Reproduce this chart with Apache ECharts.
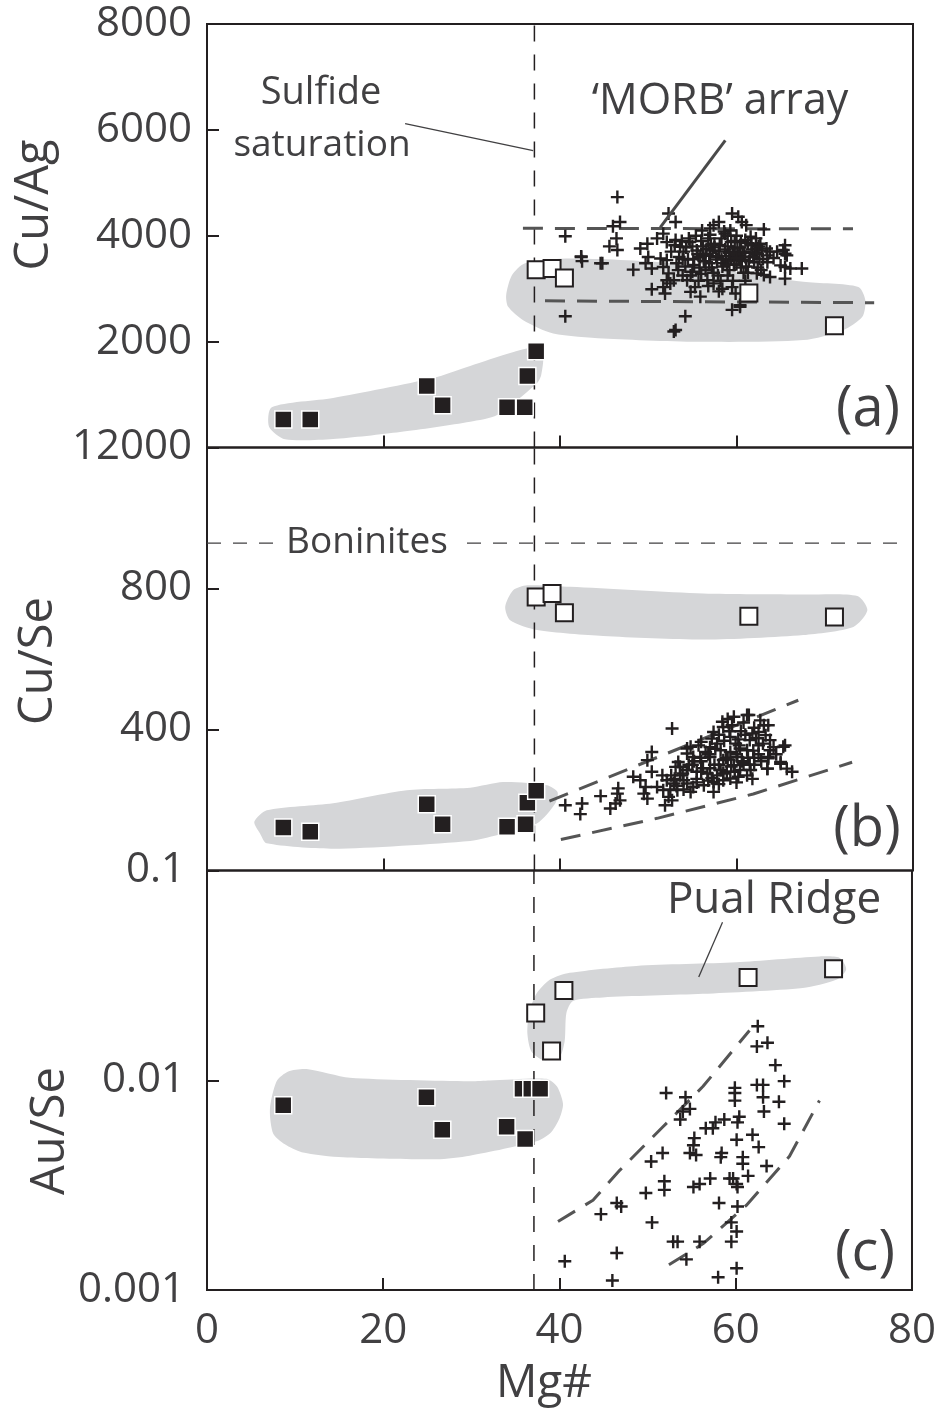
<!DOCTYPE html>
<html>
<head>
<meta charset="utf-8">
<script src="https://cdn.jsdelivr.net/npm/echarts@6.0.0/dist/echarts.min.js"></script>
<style>
  html, body { margin: 0; padding: 0; background: #ffffff; }
  #chart { width: 939px; height: 1412px; }
</style>
</head>
<body>
<div id="chart"></div>
<script>
// ---------- Mg# axis ----------
const MG_TICKS = [0, 20, 40, 60, 80];
const SULFIDE_SATURATION_MG = 37.1;

// ---------- (a) Cu/Ag ----------
const CU_AG_TICKS = [0, 2000, 4000, 6000, 8000];
const CU_AG_TICK_LABELS = ['', '2000', '4000', '6000', '8000'];
const CU_AG_ARC = [[8.65, 530], [11.7, 530], [24.9, 1160], [26.7, 800], [34.0, 760], [36.0, 760], [36.3, 1350], [37.3, 1820]];
const CU_AG_PUAL = [[37.3, 3360], [39.1, 3380], [40.5, 3200], [61.4, 2920], [71.1, 2300]];
const CU_AG_MORB = [
  [46.5, 4730], [46.8, 4260], [46.0, 4180], [40.6, 3990], [46.4, 3950], [45.6, 3800], [46.5, 3730], [42.4, 3610],
  [42.5, 3520], [44.6, 3480], [48.3, 3360], [40.6, 2480], [52.9, 2190], [54.2, 2480], [53.1, 2220], [52.3, 4420],
  [53.1, 4260], [51.7, 4040], [51.0, 3950], [52.1, 3880], [53.1, 3920], [49.9, 3850], [49.1, 3760], [50.0, 3600],
  [49.7, 3480], [50.4, 3380], [51.4, 3570], [52.1, 3540], [51.7, 3410], [52.3, 3290], [52.1, 3160], [51.7, 3030],
  [50.4, 2990], [51.9, 2910], [52.9, 3160], [52.5, 3100], [59.5, 4420], [60.2, 4360], [60.6, 4260], [61.1, 4200],
  [58.0, 4260], [57.4, 4200], [57.0, 4140], [63.1, 4120], [56.1, 4100], [59.3, 4100], [58.7, 4040], [53.6, 3790],
  [65.5, 3820], [65.3, 3730], [64.6, 3700], [65.7, 3630], [63.8, 3700], [62.7, 3850], [62.3, 3760], [63.5, 3630],
  [67.4, 3380], [66.1, 3380], [65.5, 3190], [65.0, 3440], [63.8, 3220], [63.1, 3260], [62.3, 3290], [59.5, 2600],
  [60.4, 2690], [59.9, 2910], [59.5, 3030], [54.8, 2940], [55.9, 2850], [55.3, 3030], [54.4, 3160], [58.4, 3000],
  [57.4, 3100], [56.7, 3160], [60.4, 2660], [65.5, 3410], [65.5, 3660], [44.8, 3480], [42.4, 3600],
  [53.5, 3600], [54.0, 3700], [54.5, 3550], [55.0, 3800], [55.2, 3450], [55.6, 3650], [56.0, 3900], [56.3, 3520],
  [56.6, 3750], [57.0, 3620], [57.2, 3400], [57.5, 3850], [57.8, 3550], [58.0, 3700], [58.3, 3950], [58.5, 3480],
  [58.8, 3620], [59.0, 3800], [59.2, 3350], [59.4, 3560], [59.6, 3700], [59.8, 3900], [60.0, 3460], [60.2, 3620],
  [60.4, 3780], [60.6, 3540], [60.9, 3680], [61.1, 3420], [61.3, 3860], [61.5, 3600], [61.8, 3740], [62.0, 3500],
  [62.3, 3650], [62.6, 3560], [62.9, 3720], [57.4, 3300], [56.0, 3280], [55.0, 3320], [54.2, 3420], [53.8, 3900],
  [55.4, 4000], [57.0, 4020], [58.6, 4080], [60.0, 4000], [61.6, 3980], [59.0, 3250], [60.8, 3300], [58.2, 3150],
  [56.8, 3050], [62.4, 3400], [63.5, 3500], [64.2, 3580], [53.2, 3480], [54.8, 3250], [61.0, 3150], [58.0, 2950],
  [57.5, 3780], [59.8, 3640], [60.5, 3880], [56.2, 3620],
  [52.6, 3700], [53.0, 3820], [53.4, 3350], [53.9, 3560], [54.3, 3780], [54.7, 3880], [55.1, 3560], [55.5, 3720],
  [55.8, 3400], [56.2, 3800], [56.5, 3660], [56.9, 3480], [57.3, 3720], [57.7, 3600], [58.1, 3820], [58.4, 3420],
  [58.7, 3740], [59.1, 3520], [59.4, 3880], [59.7, 3450], [60.1, 3760], [60.3, 3560], [60.7, 3700], [61.0, 3600],
  [61.4, 3520], [61.7, 3820], [62.1, 3680], [62.5, 3800], [63.0, 3560], [63.4, 3760], [53.9, 3250], [55.7, 3150],
  [57.9, 3250], [59.6, 3150], [61.3, 3300], [56.5, 3350], [60.5, 3400], [62.8, 3350], [54.6, 3950], [56.8, 3950],
  [59.0, 4000], [61.0, 3920], [62.2, 3950], [58.3, 3560], [57.1, 3820], [55.9, 3600], [60.0, 3580], [59.2, 3680],
  [58.9, 3450], [61.9, 3600]
];
const CU_AG_MORB_UPPER = [[35.8, 4140], [73.2, 4130]];
const CU_AG_MORB_LOWER = [[38.3, 2770], [75.6, 2735]];
const CU_AG_ARC_FIELD = [
  [7.34, 759], [14.29, 934], [25.62, 1311], [29.82, 1538], [34.35, 1783], [37.41, 1896], [38.1, 1745], [37.87, 1368],
  [37.41, 1217], [32.88, 613], [29.82, 487], [21.88, 292], [14.29, 160], [8.84, 155], [7.03, 392]
];
const CU_AG_PUAL_FIELD = [
  [33.9, 2878], [34.55, 3255], [36.05, 3482], [41.16, 3570], [52.5, 3482], [67.57, 3129], [73.81, 3034], [74.6, 2783],
  [74.26, 2468], [72.11, 2217], [67.57, 2029], [56.24, 1996], [44.9, 2061], [39.23, 2155], [35.83, 2406], [34.13, 2657]
];
const SULFIDE_LEADER = [[22.45, 6120], [36.96, 5610]];
const MORB_LEADER = [[58.73, 5800], [51.36, 4160]];

// ---------- (b) Cu/Se ----------
const CU_SE_TICKS = [0, 400, 800, 1200];
const CU_SE_TICK_LABELS = ['', '400', '800', '12000'];
const BONINITE_CU_SE = 929;
const CU_SE_ARC = [[8.65, 122], [11.7, 110], [24.9, 188], [26.7, 131], [34.0, 124], [36.1, 131], [36.3, 192], [37.3, 226]];
const CU_SE_PUAL = [[37.3, 776], [39.1, 786], [40.5, 731], [61.4, 721], [71.1, 719]];
const CU_SE_MORB = [
  [52.7, 403], [40.6, 185], [42.5, 190], [42.3, 160], [44.6, 211], [46.6, 233], [46.5, 218], [46.8, 199], [46.3, 190],
  [45.7, 176], [48.3, 266], [49.1, 256], [50.4, 336], [49.9, 313], [50.4, 280], [49.7, 237], [49.9, 204], [49.5, 218],
  [52.1, 256], [51.7, 228], [52.3, 209], [51.9, 185], [52.9, 247], [53.3, 228], [52.7, 199], [53.6, 270], [54.0, 256],
  [54.4, 285], [53.4, 308], [53.1, 294], [54.4, 346], [51.0, 237], [51.6, 270], [61.4, 441], [59.7, 436], [58.4, 422],
  [58.5, 407], [59.5, 412], [62.7, 426], [63.1, 412], [63.6, 412], [62.5, 393], [63.3, 384], [61.8, 389], [57.4, 393],
  [57.2, 374], [57.8, 360], [59.3, 379], [59.9, 360], [65.5, 355], [63.8, 341], [63.6, 322], [65.0, 308], [65.7, 289],
  [66.3, 280], [63.5, 289], [61.6, 285], [54.8, 351], [55.7, 355], [54.4, 332], [55.1, 322], [56.5, 336], [57.0, 322],
  [58.2, 341], [59.3, 336], [60.4, 346], [61.2, 341], [60.1, 322], [58.5, 313], [59.7, 299], [60.4, 285], [61.2, 270],
  [53.6, 294], [54.4, 285], [55.5, 280], [56.7, 275], [57.8, 270], [58.9, 280], [58.5, 256], [57.4, 251], [56.3, 242],
  [55.1, 237], [54.4, 247], [54.8, 223], [57.4, 223], [59.3, 261], [60.2, 266], [61.2, 441], [65.3, 351], [63.6, 318],
  [65.0, 303], [63.5, 289], [55.0, 300], [56.0, 310], [57.0, 290], [58.0, 300], [59.0, 315], [60.8, 305], [62.0, 300],
  [62.5, 355], [61.5, 370], [60.5, 395], [58.0, 385], [56.0, 365], [55.5, 250], [53.0, 260], [52.5, 230], [54.0, 230],
  [60.0, 250], [61.8, 260], [64.5, 330], [62.0, 320],
  [55.5, 260], [56.2, 290], [56.8, 255], [57.5, 300], [58.2, 285], [58.8, 320], [59.4, 295], [60.0, 330], [60.6, 310],
  [61.3, 320], [61.9, 340], [62.5, 330], [63.0, 360], [62.2, 375], [61.0, 385], [60.2, 372], [59.2, 395], [58.6, 368],
  [57.6, 345], [56.8, 330], [55.9, 320], [55.2, 310], [54.6, 300], [53.9, 275], [57.2, 262], [58.5, 275], [59.8, 280],
  [61.5, 300], [62.8, 310], [63.8, 370], [64.2, 350], [60.8, 420], [59.0, 430], [62.0, 405], [57.0, 350], [56.0, 280],
  [53.2, 240], [52.6, 270], [58.0, 245], [60.3, 355]
];
const CU_SE_MORB_UPPER = [[38.8, 197], [67.0, 483]];
const CU_SE_MORB_LOWER = [[40.1, 88], [51.0, 148], [61.9, 217], [73.1, 307]];
const CU_SE_ARC_FIELD = [
  [5.36, 138], [6.77, 171], [14.29, 191], [22.64, 228], [29.82, 235], [33.56, 251], [38.51, 242], [39.72, 223],
  [39.46, 190], [37.38, 133], [33.56, 105], [29.82, 84], [14.29, 62], [6.77, 77], [6.01, 105]
];
const CU_SE_PUAL_FIELD = [
  [33.79, 748], [34.69, 795], [36.28, 809], [41.16, 805], [56.24, 786], [67.57, 783], [73.7, 779], [74.83, 738],
  [73.24, 691], [67.57, 668], [56.46, 655], [44.9, 665], [37.41, 682], [34.35, 710]
];

// ---------- (c) Au/Se ----------
const AU_SE_TICKS = [0.001, 0.01, 0.1];
const AU_SE_TICK_LABELS = ['0.001', '0.01', '0.1'];
const AU_SE_ARC = [[8.65, 0.0076], [24.9, 0.0083], [26.7, 0.0058], [34.0, 0.0060], [36.1, 0.00525], [35.8, 0.0091], [36.8, 0.0091], [37.8, 0.0091]];
const AU_SE_PUAL = [[37.3, 0.0209], [39.1, 0.0138], [40.5, 0.0268], [61.4, 0.0309], [71.1, 0.034]];
const AU_SE_MORB = [
  [62.5, 0.0181], [62.4, 0.0145], [63.6, 0.0151], [64.5, 0.0118], [65.5, 0.0099], [62.4, 0.0095], [63.1, 0.0095],
  [63.1, 0.0083], [64.9, 0.0079], [63.2, 0.0071], [65.5, 0.0062], [59.9, 0.0092], [59.9, 0.0087], [59.9, 0.0080],
  [60.4, 0.0067], [60.2, 0.0063], [60.1, 0.0052], [61.9, 0.0055], [62.6, 0.0048], [60.8, 0.0043], [60.8, 0.0040],
  [63.5, 0.0039], [58.7, 0.0065], [57.7, 0.0063], [57.4, 0.0059], [56.6, 0.0059], [55.3, 0.0053], [55.2, 0.0049],
  [55.5, 0.0044], [54.8, 0.0045], [58.4, 0.0045], [58.3, 0.0043], [57.1, 0.0034], [59.3, 0.0034], [59.7, 0.0034],
  [61.4, 0.0035], [60.1, 0.0032], [60.2, 0.0031], [55.9, 0.0032], [55.2, 0.0031], [58.1, 0.0026], [60.2, 0.0025],
  [52.1, 0.0087], [54.3, 0.0083], [54.8, 0.0073], [54.0, 0.0071], [53.7, 0.0065], [51.7, 0.0045], [50.4, 0.0041],
  [51.9, 0.0033], [51.9, 0.0030], [49.8, 0.0029], [50.5, 0.0021], [46.5, 0.0026], [47.0, 0.0025], [44.7, 0.0023],
  [52.9, 0.0017], [53.4, 0.0017], [55.9, 0.0017], [54.4, 0.0014], [59.5, 0.0021], [60.1, 0.0019], [59.5, 0.0017],
  [46.5, 0.0015], [40.6, 0.00137], [46.0, 0.00111], [58.0, 0.00115], [60.1, 0.00127]
];
const AU_SE_MORB_UPPER = [[39.83, 0.00212], [43.8, 0.00268], [46.83, 0.00372], [51.74, 0.0060], [56.27, 0.00933], [61.56, 0.01726]];
const AU_SE_MORB_LOWER = [[52.42, 0.00132], [56.27, 0.00166], [61.19, 0.00253], [66.1, 0.00434], [69.5, 0.0080]];
const AU_SE_ARC_FIELD = [
  [7.9, 0.00989], [9.22, 0.01101], [11.3, 0.01131], [16.21, 0.01028], [29.82, 0.00989], [32.09, 0.00997], [38.51, 0.01016],
  [39.72, 0.00933], [40.4, 0.00771], [40.02, 0.00661], [39.08, 0.00567], [37.56, 0.00515], [29.82, 0.00437],
  [26.04, 0.0042], [15.45, 0.00429], [10.74, 0.00454], [8.84, 0.00495], [7.52, 0.00556], [7.14, 0.00728]
];
const AU_SE_PUAL_FIELD = [
  [38.21, 0.01245], [40.02, 0.01294], [40.59, 0.01538], [40.78, 0.02089], [41.53, 0.0239], [44.93, 0.02483],
  [56.27, 0.02582], [67.61, 0.02754], [71.39, 0.0301], [72.53, 0.03377], [71.77, 0.03833], [69.5, 0.0389],
  [60.06, 0.03648], [48.72, 0.03508], [41.16, 0.03251], [38.89, 0.0301], [37.38, 0.02582], [36.54, 0.02089],
  [36.36, 0.0166], [36.81, 0.01371]
];
const PUAL_LEADER = [[58.5, 0.0567], [55.8, 0.0311]];

// ---------- styling ----------
const INK = '#231f20';
const TEXT = '#414042';
const FIELD = '#d5d6d8';
const ENVELOPE = '#555555';
const FONT = '"Open Sans", "Noto Sans", sans-serif';
const CROSS = 'path://M5.3,0h2.4v5.3h5.3v2.4h-5.3v5.3h-2.4v-5.3h-5.3v-2.4h5.3z';

const PANELS = [
  { top: 24, height: 423.5 },
  { top: 447.5, height: 423 },
  { top: 870.5, height: 419.5 }
];

function labelFrom(ticks, labels) {
  return function (v) {
    for (let i = 0; i < ticks.length; i++) {
      if (Math.abs(v - ticks[i]) <= Math.abs(ticks[i]) * 1e-6 + 1e-12) return labels[i];
    }
    return '';
  };
}

function field(g, pts) {
  return {
    type: 'custom', xAxisIndex: g, yAxisIndex: g, silent: true, z: 1,
    data: pts,
    encode: { x: 0, y: 1 },
    renderItem: function (params, api) {
      if (params.dataIndex !== 0) return null;
      return {
        type: 'polygon',
        shape: { points: pts.map(function (p) { return api.coord(p); }), smooth: 0.25 },
        style: { fill: FIELD, stroke: null }
      };
    }
  };
}

function path(g, pts, width, dash, color, z) {
  return {
    type: 'line', xAxisIndex: g, yAxisIndex: g, data: pts, symbol: 'none', silent: true, z: z || 3,
    lineStyle: { color: color, width: width, type: dash }
  };
}

function crosses(g, pts) {
  return {
    type: 'scatter', xAxisIndex: g, yAxisIndex: g, data: pts, symbol: CROSS, symbolSize: 13, z: 4,
    itemStyle: { color: INK, opacity: 1 }
  };
}

function filledSquares(g, pts) {
  return {
    type: 'scatter', xAxisIndex: g, yAxisIndex: g, data: pts, symbol: 'rect', symbolSize: 17, z: 5,
    itemStyle: { color: INK, borderColor: '#ffffff', borderWidth: 1.5, opacity: 1 }
  };
}

function openSquares(g, pts) {
  return {
    type: 'scatter', xAxisIndex: g, yAxisIndex: g, data: pts, symbol: 'rect', symbolSize: 17, z: 5,
    itemStyle: { color: '#ffffff', borderColor: INK, borderWidth: 2, opacity: 1 }
  };
}

const tickStyle = { show: true, inside: true, length: 12, lineStyle: { color: INK, width: 2 } };
const labelStyle = { color: TEXT, fontFamily: FONT, fontSize: 42 };

const xAxes = PANELS.map(function (p, i) {
  return {
    gridIndex: i, type: 'value', min: MG_TICKS[0], max: MG_TICKS[MG_TICKS.length - 1], interval: 20,
    axisLine: { show: false }, splitLine: { show: false }, axisTick: tickStyle,
    axisLabel: Object.assign({ show: i === 2, margin: 20, formatter: labelFrom(MG_TICKS, MG_TICKS.map(String)) }, labelStyle)
  };
});

const yAxes = [
  {
    gridIndex: 0, type: 'value', min: 0, max: 8000, interval: 2000,
    axisLine: { show: false }, splitLine: { show: false }, axisTick: tickStyle,
    axisLabel: Object.assign({ margin: 15, formatter: labelFrom(CU_AG_TICKS, CU_AG_TICK_LABELS) }, labelStyle)
  },
  {
    gridIndex: 1, type: 'value', min: 0, max: 1200, interval: 400,
    axisLine: { show: false }, splitLine: { show: false }, axisTick: tickStyle,
    axisLabel: Object.assign({ margin: 15, formatter: labelFrom(CU_SE_TICKS, CU_SE_TICK_LABELS) }, labelStyle)
  },
  {
    gridIndex: 2, type: 'log', logBase: 10, min: 0.001, max: 0.1,
    axisLine: { show: false }, splitLine: { show: false }, minorTick: { show: false }, axisTick: tickStyle,
    axisLabel: Object.assign({ margin: 22, formatter: labelFrom(AU_SE_TICKS, AU_SE_TICK_LABELS) }, labelStyle)
  }
];

const vDash = [16, 13];
const series = [
  // (a)
  field(0, CU_AG_ARC_FIELD),
  field(0, CU_AG_PUAL_FIELD),
  path(0, [[SULFIDE_SATURATION_MG, 0], [SULFIDE_SATURATION_MG, 8000]], 1.5, vDash, INK, 2),
  path(0, CU_AG_MORB_UPPER, 3, [20, 12], ENVELOPE),
  path(0, CU_AG_MORB_LOWER, 3, [20, 12], ENVELOPE),
  path(0, SULFIDE_LEADER, 1.3, 'solid', TEXT),
  crosses(0, CU_AG_MORB),
  path(0, MORB_LEADER, 3, 'solid', '#4a4a4a', 6),
  openSquares(0, CU_AG_PUAL),
  filledSquares(0, CU_AG_ARC),
  // (b)
  field(1, CU_SE_ARC_FIELD),
  field(1, CU_SE_PUAL_FIELD),
  path(1, [[SULFIDE_SATURATION_MG, 0], [SULFIDE_SATURATION_MG, 1200]], 1.5, vDash, INK, 2),
  path(1, [[0, BONINITE_CU_SE], [79.3, BONINITE_CU_SE]], 1.3, [14, 12], TEXT, 2),
  path(1, CU_SE_MORB_UPPER, 3, [20, 12], ENVELOPE),
  path(1, CU_SE_MORB_LOWER, 3, [20, 12], ENVELOPE),
  crosses(1, CU_SE_MORB),
  openSquares(1, CU_SE_PUAL),
  filledSquares(1, CU_SE_ARC),
  // (c)
  field(2, AU_SE_ARC_FIELD),
  field(2, AU_SE_PUAL_FIELD),
  path(2, [[SULFIDE_SATURATION_MG, 0.001], [SULFIDE_SATURATION_MG, 0.1]], 1.5, vDash, INK, 2),
  path(2, AU_SE_MORB_UPPER, 3, [20, 12], ENVELOPE),
  path(2, AU_SE_MORB_LOWER, 3, [20, 12], ENVELOPE),
  path(2, PUAL_LEADER, 1.3, 'solid', TEXT),
  crosses(2, AU_SE_MORB),
  openSquares(2, AU_SE_PUAL),
  filledSquares(2, AU_SE_ARC)
];

function txt(text, x, y, size, extra) {
  return Object.assign({
    type: 'text', x: x, y: y, z: 100,
    style: { text: text, fill: TEXT, fontFamily: FONT, fontSize: size, align: 'center', verticalAlign: 'middle' }
  }, extra || {});
}

const graphics = [
  txt('Sulfide', 321, 93, 38),
  txt('saturation', 322, 145, 37),
  txt('\u2018MORB\u2019 array', 720, 102, 43),
  txt('(a)', 868, 410, 56),
  txt('(b)', 867, 830, 56),
  txt('(c)', 865, 1254, 56),
  txt('Pual Ridge', 774, 900, 44),
  {
    type: 'text', x: 367, y: 542, z: 100,
    style: {
      text: 'Boninites', fill: TEXT, fontFamily: FONT, fontSize: 37, align: 'center', verticalAlign: 'middle',
      backgroundColor: '#ffffff', padding: [2, 10]
    }
  },
  txt('Cu/Ag', 35, 205, 47, { rotation: Math.PI / 2 }),
  txt('Cu/Se', 39, 661, 47, { rotation: Math.PI / 2 }),
  txt('Au/Se', 51, 1131, 47, { rotation: Math.PI / 2 }),
  txt('Mg#', 544, 1384, 46)
];

const chart = echarts.init(document.getElementById('chart'), null, { renderer: 'canvas' });
chart.setOption({
  animation: false,
  backgroundColor: '#ffffff',
  grid: PANELS.map(function (p) {
    return { left: 207, width: 706, top: p.top, height: p.height, show: true, borderColor: INK, borderWidth: 2, backgroundColor: 'transparent', containLabel: false };
  }),
  xAxis: xAxes,
  yAxis: yAxes,
  series: series,
  graphic: graphics
});
</script>
</body>
</html>
